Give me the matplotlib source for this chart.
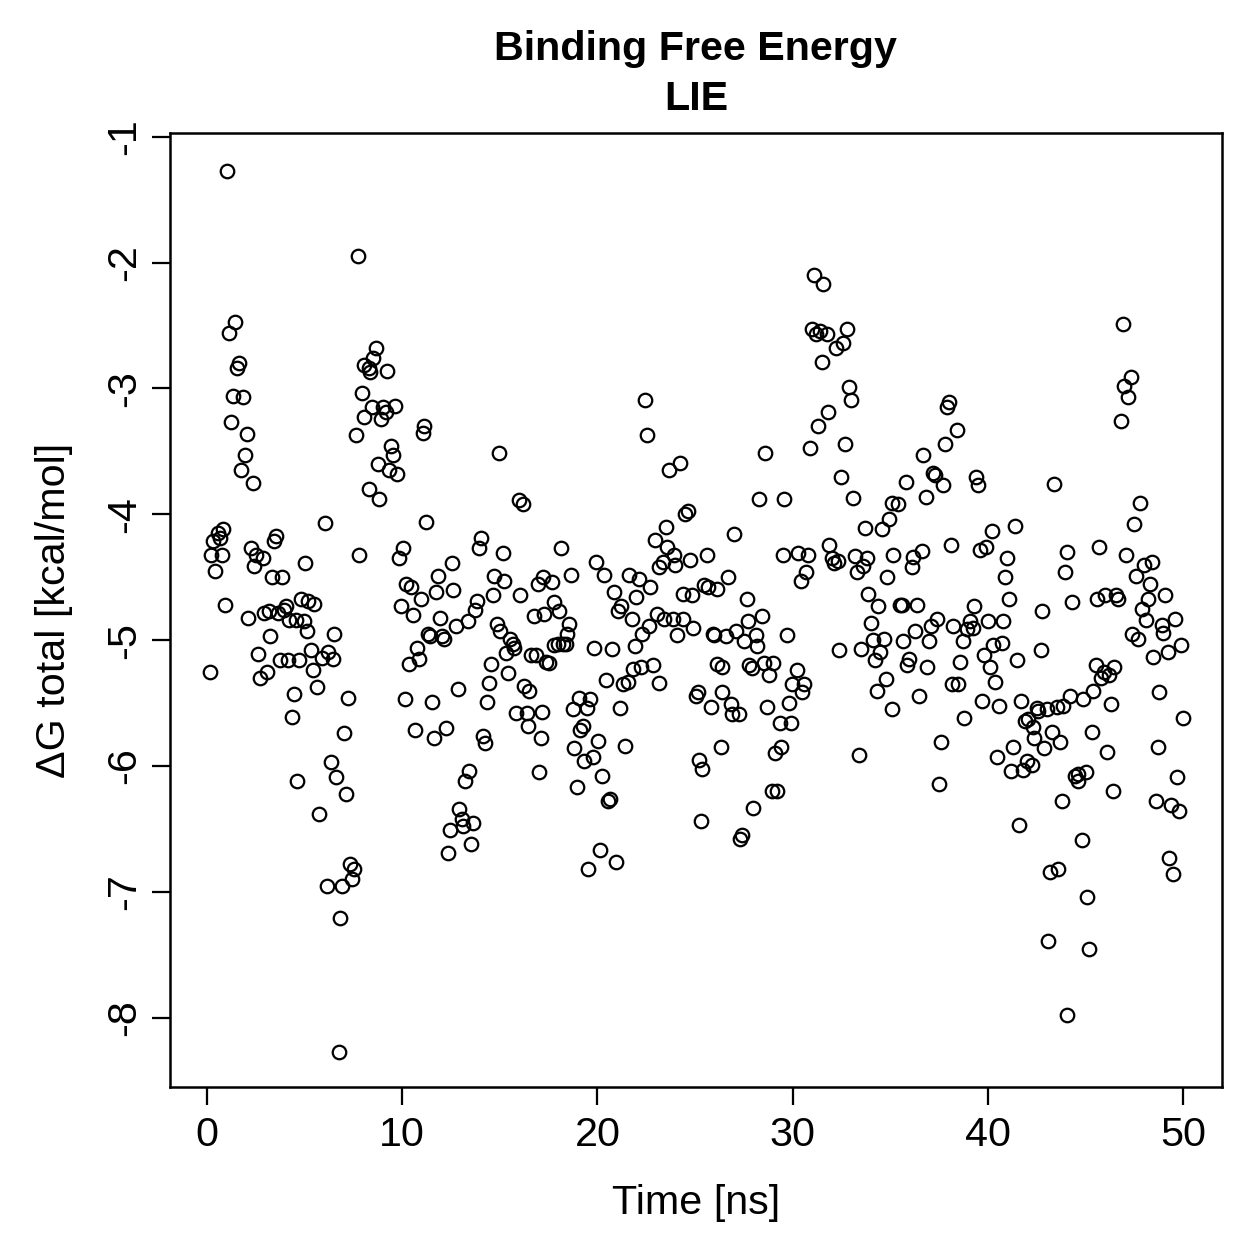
import matplotlib
matplotlib.use("Agg")
import matplotlib.pyplot as plt

# values (time in ns, dG in kcal/mol)
time_ns = [
    0.15, 0.2, 0.31, 0.41, 0.56, 0.67, 0.77, 0.82, 0.92, 1.02, 1.13, 1.23, 1.33, 1.43, 1.54, 1.64,
    1.74, 1.84, 1.94, 2.05, 2.10, 2.25, 2.35, 2.41, 2.51, 2.61, 2.71, 2.87, 2.92, 3.07, 3.17, 3.22,
    3.33, 3.43, 3.53, 3.63, 3.74, 3.84, 3.94, 4.04, 4.15, 4.20, 4.35, 4.45, 4.55, 4.61, 4.71, 4.81,
    4.96, 5.02, 5.12, 5.17, 5.32, 5.43, 5.48, 5.63, 5.73, 5.89, 6.04, 6.14, 6.19, 6.35, 6.45, 6.50,
    6.60, 6.76, 6.81, 6.91, 7.01, 7.11, 7.22, 7.32, 7.42, 7.52, 7.63, 7.73, 7.78, 7.93, 8.03, 8.04,
    8.30, 8.29, 8.34, 8.44, 8.50, 8.65, 8.75, 8.80, 8.90, 9.00, 9.16, 9.21, 9.31, 9.42, 9.52, 9.62,
    9.72, 9.83, 9.93, 10.03, 10.13, 10.18, 10.34, 10.44, 10.54, 10.64, 10.75, 10.85, 10.95, 11.05,
    11.10, 11.20, 11.31, 11.41, 11.51, 11.62, 11.72, 11.82, 11.92, 12.03, 12.13, 12.23, 12.33,
    12.44, 12.54, 12.59, 12.74, 12.85, 12.90, 13.05, 13.10, 13.20, 13.36, 13.41, 13.51, 13.61,
    13.72, 13.82, 13.92, 14.02, 14.12, 14.23, 14.33, 14.43, 14.53, 14.64, 14.69, 14.84, 14.94,
    14.99, 15.15, 15.20, 15.30, 15.40, 15.51, 15.66, 15.71, 15.81, 15.97, 16.02, 16.17, 16.22,
    16.38, 16.43, 16.48, 16.58, 16.73, 16.84, 16.94, 16.99, 17.09, 17.14, 17.20, 17.25, 17.35,
    17.50, 17.66, 17.76, 17.76, 17.96, 18.01, 18.12, 18.22, 18.37, 18.42, 18.53, 18.63, 18.73,
    18.78, 18.94, 19.04, 19.09, 19.24, 19.29, 19.45, 19.50, 19.60, 19.75, 19.81, 19.91, 20.01,
    20.11, 20.22, 20.32, 20.42, 20.52, 20.62, 20.73, 20.83, 20.93, 21.03, 21.14, 21.19, 21.29,
    21.39, 21.55, 21.60, 21.75, 21.80, 21.95, 22.00, 22.11, 22.21, 22.31, 22.42, 22.52, 22.62,
    22.72, 22.83, 22.93, 23.03, 23.13, 23.18, 23.34, 23.39, 23.49, 23.59, 23.69, 23.85, 23.90,
    24.00, 24.10, 24.21, 24.36, 24.41, 24.51, 24.62, 24.72, 24.87, 24.92, 25.03, 25.13, 25.18,
    25.33, 25.38, 25.44, 25.59, 25.69, 25.84, 25.90, 25.95, 26.15, 26.15, 26.36, 26.40, 26.35,
    26.61, 26.71, 26.82, 26.92, 27.02, 27.12, 27.23, 27.33, 27.43, 27.53, 27.64, 27.74, 27.79,
    27.94, 27.99, 28.15, 28.20, 28.30, 28.45, 28.56, 28.61, 28.71, 28.81, 28.97, 29.02, 29.12,
    29.22, 29.33, 29.43, 29.53, 29.58, 29.73, 29.84, 29.94, 29.99, 30.25, 30.30, 30.45, 30.50,
    30.60, 30.71, 30.81, 30.91, 31.01, 31.12, 31.22, 31.32, 31.42, 31.53, 31.58, 31.78, 31.83,
    31.88, 32.04, 32.14, 32.24, 32.34, 32.40, 32.50, 32.60, 32.70, 32.80, 32.91, 33.01, 33.11,
    33.21, 33.32, 33.42, 33.52, 33.62, 33.73, 33.83, 33.88, 34.03, 34.14, 34.24, 34.34, 34.39,
    34.49, 34.60, 34.70, 34.80, 34.85, 34.95, 35.10, 35.10, 35.16, 35.41, 35.50, 35.60, 35.67,
    35.82, 35.87, 35.98, 36.13, 36.18, 36.29, 36.39, 36.49, 36.64, 36.69, 36.85, 36.90, 37.00,
    37.10, 37.20, 37.31, 37.41, 37.51, 37.62, 37.72, 37.82, 37.92, 38.02, 38.13, 38.18, 38.23,
    38.43, 38.49, 38.59, 38.74, 38.79, 38.95, 39.10, 39.25, 39.30, 39.41, 39.51, 39.61, 39.71,
    39.82, 39.92, 40.02, 40.12, 40.23, 40.28, 40.38, 40.48, 40.58, 40.74, 40.79, 40.89, 40.99,
    41.10, 41.20, 41.30, 41.40, 41.50, 41.61, 41.71, 41.81, 41.91, 42.02, 42.07, 42.27, 42.32,
    42.37, 42.53, 42.58, 42.73, 42.78, 42.89, 43.04, 43.09, 43.19, 43.30, 43.40, 43.55, 43.60,
    43.71, 43.81, 43.86, 43.96, 44.06, 44.06, 44.22, 44.30, 44.47, 44.63, 44.63, 44.83, 44.88,
    45.04, 45.09, 45.19, 45.34, 45.39, 45.55, 45.60, 45.70, 45.80, 45.96, 46.01, 46.11, 46.21,
    46.32, 46.42, 46.47, 46.57, 46.67, 46.83, 46.93, 46.98, 47.08, 47.19, 47.34, 47.39, 47.49,
    47.59, 47.70, 47.80, 47.90, 48.00, 48.11, 48.21, 48.31, 48.41, 48.46, 48.62, 48.72, 48.77,
    48.93, 48.98, 49.08, 49.23, 49.28, 49.39, 49.49, 49.59, 49.69, 49.80, 49.90, 50.00,
]

dg_total = [
    -5.25, -4.32, -4.21, -4.45, -4.15, -4.19, -4.32, -4.12, -4.72, -1.27, -2.56, -3.27, -3.06, -2.47, -2.84, -2.80,
    -3.65, -3.07, -3.53, -3.36, -4.82, -4.27, -3.75, -4.41, -4.32, -5.11, -5.30, -4.35, -4.78, -5.25, -4.77, -4.97,
    -4.50, -4.21, -4.17, -4.78, -5.16, -4.50, -4.76, -4.73, -5.16, -4.84, -5.61, -5.43, -4.84, -6.12, -5.16, -4.67,
    -4.85, -4.39, -4.93, -4.69, -5.08, -5.24, -4.71, -5.37, -6.38, -5.14, -4.07, -6.95, -5.09, -5.97, -5.15, -4.95,
    -6.09, -8.27, -7.21, -6.95, -5.74, -6.22, -5.46, -6.78, -6.90, -6.82, -3.37, -1.95, -4.32, -3.04, -3.23, -2.81,
    -3.80, -2.84, -2.87, -3.15, -2.76, -2.68, -3.60, -3.88, -3.24, -3.15, -3.19, -2.86, -3.65, -3.46, -3.53, -3.14,
    -3.68, -4.35, -4.73, -4.27, -5.47, -4.55, -5.19, -4.58, -4.80, -5.71, -5.06, -5.15, -4.67, -3.35,
    -3.30, -4.06, -4.95, -4.97, -5.49, -5.78, -4.62, -4.49, -4.82, -4.97, -4.99, -5.70, -6.69,
    -6.51, -4.39, -4.60, -4.89, -5.39, -6.34, -6.42, -6.48, -6.12, -4.85, -6.04, -6.62, -6.45,
    -4.76, -4.69, -4.27, -4.19, -5.76, -5.82, -5.49, -5.34, -5.19, -4.64, -4.49, -4.87, -3.51,
    -4.93, -4.31, -4.53, -5.10, -5.26, -4.99, -5.03, -5.06, -5.58, -3.89, -4.64, -3.92, -5.36,
    -5.58, -5.68, -5.40, -5.12, -4.81, -5.12, -4.55, -6.05, -5.78, -5.57, -4.50, -4.79, -5.17,
    -5.18, -4.54, -4.70, -5.04, -5.03, -4.77, -4.27, -5.03, -5.03, -4.95, -4.87, -4.48, -5.55,
    -5.86, -6.17, -5.46, -5.71, -5.68, -5.96, -5.54, -6.82, -5.47, -5.93, -5.06, -4.38, -5.80,
    -6.67, -6.08, -4.48, -5.32, -6.28, -6.26, -5.07, -4.62, -6.76, -4.77, -5.54, -4.73, -5.35,
    -5.84, -5.33, -4.48, -4.83, -5.23, -5.05, -4.66, -4.51, -5.21, -4.95, -3.09, -3.37, -4.89,
    -4.58, -5.20, -4.20, -4.79, -5.34, -4.42, -4.38, -4.83, -4.10, -4.26, -3.65, -4.83, -4.32,
    -4.40, -4.96, -3.59, -4.63, -4.83, -4.00, -3.97, -4.36, -4.64, -4.90, -5.44, -5.41, -5.95,
    -6.44, -6.02, -4.56, -4.32, -4.58, -5.53, -4.95, -4.96, -4.59, -5.19, -5.21, -5.41, -5.85,
    -4.97, -4.50, -5.51, -5.59, -4.16, -4.93, -5.59, -6.58, -6.55, -5.01, -4.67, -4.85, -5.20,
    -5.22, -6.33, -4.96, -5.05, -3.88, -4.81, -5.18, -3.51, -5.53, -5.28, -6.20, -5.18, -5.90,
    -6.20, -5.66, -5.85, -4.32, -3.88, -4.96, -5.50, -5.66, -5.35, -5.24, -4.31, -4.53, -5.41,
    -5.35, -4.46, -4.32, -3.47, -2.53, -2.10, -2.57, -3.30, -2.54, -2.79, -2.17, -2.57, -3.19,
    -4.24, -4.35, -4.39, -2.68, -4.37, -5.08, -3.70, -2.64, -3.44, -2.53, -2.99, -3.09, -3.87,
    -4.33, -4.46, -5.91, -5.07, -4.41, -4.11, -4.35, -4.63, -4.86, -5.00, -5.16, -5.40, -4.73,
    -5.09, -4.12, -4.99, -5.31, -4.50, -4.04, -3.91, -5.55, -4.32, -3.92, -4.72, -4.72, -5.01,
    -3.74, -5.20, -5.15, -4.42, -4.34, -4.93, -4.72, -5.44, -4.29, -3.53, -3.86, -5.21, -5.01,
    -4.89, -3.67, -3.69, -4.83, -6.14, -5.81, -3.77, -3.44, -3.15, -3.11, -4.24, -5.35, -4.89,
    -3.33, -5.35, -5.17, -5.01, -5.62, -4.91, -4.85, -4.90, -4.73, -3.70, -3.77, -4.28, -5.48,
    -5.12, -4.26, -4.85, -5.21, -4.13, -5.04, -5.33, -5.93, -5.52, -5.02, -4.85, -4.50, -4.35,
    -4.67, -6.04, -5.85, -4.09, -5.16, -6.47, -5.48, -6.03, -5.64, -5.96, -5.63, -5.99, -5.69,
    -5.78, -5.54, -5.56, -5.08, -4.77, -5.86, -5.55, -7.39, -6.84, -5.73, -3.76, -5.53, -6.82,
    -5.81, -6.28, -5.52, -4.46, -4.30, -7.98, -5.44, -4.70, -6.08, -6.06, -6.12, -6.59, -5.47,
    -6.05, -7.04, -7.45, -5.73, -5.40, -5.20, -4.67, -4.26, -5.30, -5.25, -4.64, -5.89, -5.28,
    -5.51, -6.20, -5.21, -4.64, -4.67, -3.26, -2.49, -2.98, -4.32, -3.07, -2.91, -4.95, -4.08,
    -4.49, -4.99, -3.91, -4.75, -4.40, -4.84, -4.67, -4.55, -4.38, -5.13, -6.28, -5.85, -5.41,
    -4.88, -4.94, -4.64, -5.09, -6.73, -6.31, -6.86, -4.83, -6.09, -6.36, -5.04, -5.62,
]

x_ticks = [0, 10, 20, 30, 40, 50]
y_ticks = [-1, -2, -3, -4, -5, -6, -7, -8]

plt.rcParams['font.family'] = ['Liberation Sans', 'DejaVu Sans']
plt.rcParams['font.size'] = 16.5

fig = plt.figure(figsize=(1259 / 180, 1259 / 180), dpi=180)
ax = fig.add_axes([0.135, 0.1366, 0.8356, 0.7578])

ax.plot(time_ns, dg_total, 'o', mfc='none', mec='black', ms=5.4, mew=0.9)

ax.set_xlim(-1.9, 52.0)
ax.set_ylim(-8.55, -0.97)
ax.set_xticks(x_ticks)
ax.set_yticks(y_ticks)
ax.set_yticklabels([str(v) for v in y_ticks], rotation=90, va='center')
ax.tick_params(direction='out', length=7.2, width=0.9, labelsize=16.5)
ax.tick_params(axis='x', pad=4.5)
ax.tick_params(axis='y', pad=3.5)
for s in ax.spines.values():
    s.set_linewidth(1.0)

ax.set_xlabel('Time [ns]', fontsize=16.5, labelpad=12)
ax.set_ylabel('\u0394G total [kcal/mol]', fontsize=16.5, labelpad=13)
ax.set_title('Binding Free Energy\nLIE', fontsize=16.5, fontweight='bold', pad=9, linespacing=1.4)

fig.savefig('out.png', dpi=180)
